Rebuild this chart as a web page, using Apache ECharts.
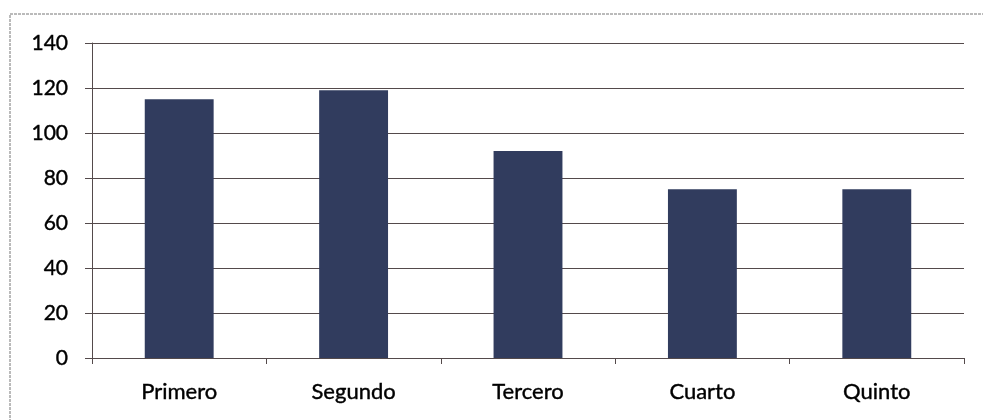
<!DOCTYPE html>
<html>
<head>
<meta charset="utf-8">
<style>
html,body{margin:0;padding:0;background:#fff;}
#chart{width:983px;height:420px;}
</style>
<script src="https://cdn.jsdelivr.net/npm/echarts@6/dist/echarts.min.js"></script>
</head>
<body>
<div id="chart"></div>
<script>
const categories = ['Primero', 'Segundo', 'Tercero', 'Cuarto', 'Quinto'];
const values = [115, 119, 92, 75, 75];
const yTicks = [0, 20, 40, 60, 80, 100, 120, 140];

const chart = echarts.init(document.getElementById('chart'), null, {renderer: 'canvas'});
const lineColor = '#544a4b';
chart.setOption({
  animation: false,
  backgroundColor: '#ffffff',
  graphic: [{
    type: 'rect',
    shape: {x: 10, y: 14, width: 1000, height: 500},
    style: {fill: 'none', stroke: '#777', lineWidth: 1, lineDash: [3, 1]}
  }],
  grid: {left: 92, right: 19, top: 43, bottom: 62, containLabel: false},
  xAxis: {
    type: 'category',
    data: categories,
    boundaryGap: true,
    axisLine: {show: true, lineStyle: {color: lineColor, width: 1}},
    axisTick: {show: true, alignWithLabel: false, length: 6, lineStyle: {color: lineColor}},
    axisLabel: {fontFamily: 'Lato', fontSize: 22, color: '#000', margin: 23,
                textBorderColor: '#000', textBorderWidth: 0.4}
  },
  yAxis: {
    type: 'value',
    min: yTicks[0],
    max: yTicks[yTicks.length - 1],
    interval: yTicks[1] - yTicks[0],
    axisLine: {show: true, lineStyle: {color: lineColor, width: 1}},
    axisTick: {show: true, length: 7, lineStyle: {color: lineColor}},
    splitLine: {show: true, lineStyle: {color: lineColor, width: 1}},
    axisLabel: {fontFamily: 'Lato', fontSize: 21, color: '#000', margin: 24,
                textBorderColor: '#000', textBorderWidth: 0.4}
  },
  series: [{
    type: 'bar',
    data: values,
    barWidth: '39.5%',
    itemStyle: {color: '#313c5e'}
  }]
});
</script>
</body>
</html>
